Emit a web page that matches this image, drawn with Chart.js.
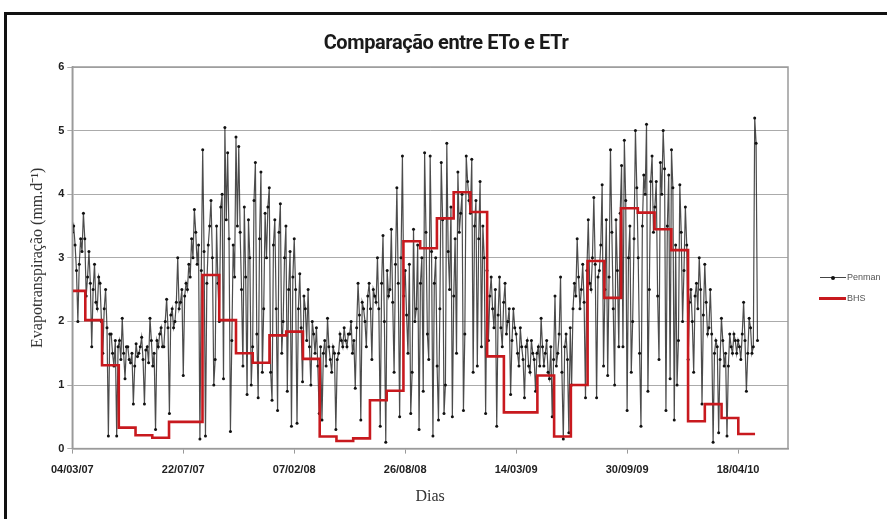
<!DOCTYPE html>
<html>
<head>
<meta charset="utf-8">
<script src="https://cdn.jsdelivr.net/npm/chart.js@4.4.1/dist/chart.umd.min.js"></script>
<style>
html,body{margin:0;padding:0;background:#fff;}
#wrap{position:relative;width:887px;height:519px;overflow:hidden;background:#fff;}
#frame{position:absolute;left:4px;top:12px;width:1000px;height:1000px;border-left:3px solid #111;border-top:3px solid #111;}
#c{position:absolute;left:0;top:0;}
#title{position:absolute;left:6px;width:880px;top:30px;text-align:center;font:bold 20px Roboto,"Liberation Sans",sans-serif;color:#1a1a1a;letter-spacing:-0.4px;line-height:24px;}
.lg{position:absolute;font:9px "Liberation Sans",Arial,sans-serif;color:#555;line-height:10px;}
.ln{position:absolute;}
</style>
</head>
<body>
<div id="wrap">
  <div id="frame"></div>
  <canvas id="c" width="887" height="519"></canvas>
  <div id="title">Comparação entre ETo e ETr</div>
  <div class="ln" style="left:820px;top:277px;width:26px;height:1px;background:#444;"></div>
  <div class="ln" style="left:831px;top:275.5px;width:4px;height:4px;border-radius:50%;background:#111;"></div>
  <div class="lg" style="left:847px;top:272px;">Penman</div>
  <div class="ln" style="left:819px;top:297px;width:27px;height:2.5px;background:#c8191e;"></div>
  <div class="lg" style="left:847px;top:293px;">BHS</div>
</div>
<script>
// ---- data ----
const tickLabels = ['04/03/07','22/07/07','07/02/08','26/08/08','14/03/09','30/09/09','18/04/10'];
const tickEvery = 200;      // x units between labelled ticks
const xMax = 1290;
const penmanStep = 2.5;     // x units between plotted Penman values
const penmanValues = [
  3.4,3.5, 3.2,2.8, 2.0,2.9, 3.3,3.1, 3.7,3.3, 2.4,2.7, 3.1,2.6, 1.6,2.5, 2.9,2.3, 2.2,2.7,
  2.6,2.0, 1.5,2.2, 2.5,1.9, 0.2,1.8, 1.8,1.5, 1.3,1.7, 0.2,1.6, 1.7,1.4, 2.05,1.5, 1.1,1.6,
  1.6,1.4, 1.35,1.5, 0.7,1.3, 1.65,1.45, 1.5,1.6, 1.75,1.4, 0.7,1.55, 1.6,1.35, 2.05,1.7, 1.3,1.5,
  0.3,1.7, 1.6,1.8, 1.9,1.6, 1.6,2.0, 2.35,1.9, 0.55,2.1, 2.2,1.9, 2.0,2.3, 3.0,2.2, 2.3,2.5,
  1.15,2.4, 2.6,2.5, 2.9,2.7, 3.3,3.0, 3.76,3.4, 2.9,3.2, 0.15,2.8, 4.7,3.1, 0.2,2.6, 3.2,3.5,
  3.9,3.0, 1.0,1.4, 3.5,2.6, 2.0,3.8, 4.0,1.1, 5.05,3.6, 4.65,3.3, 0.27,1.7, 3.2,2.7, 4.9,3.5,
  4.75,3.4, 2.5,1.3, 3.8,2.7, 0.85,3.6, 3.0,1.0, 1.6,3.9, 4.5,1.8, 0.8,3.3, 4.35,1.2, 2.2,3.7,
  3.0,3.8, 4.1,1.2, 0.76,3.2, 3.6,2.2, 0.6,3.4, 3.85,1.5, 2.0,3.0, 3.5,0.9, 2.5,3.1, 0.35,2.7,
  3.3,2.5, 0.4,2.2, 2.75,1.9, 1.05,2.4, 2.2,1.7, 2.5,1.6, 1.0,2.0, 1.8,1.5, 1.9,1.3, 0.55,1.6,
  0.45,1.5, 1.7,1.3, 2.05,1.6, 1.4,1.2, 1.6,1.5, 0.3,1.4, 1.5,1.8, 1.7,1.6, 1.9,1.7, 1.6,1.8,
  1.8,2.0, 1.5,1.7, 0.95,1.9, 2.6,2.1, 0.45,2.3, 2.2,2.0, 1.6,2.4, 2.6,2.2, 1.4,2.5, 2.4,2.3,
  3.0,2.2, 0.35,2.6, 3.35,2.0, 0.1,2.8, 2.4,2.5, 3.45,2.3, 1.2,2.9, 4.1,2.6, 0.5,3.0, 4.6,2.4,
  2.8,2.1, 1.5,2.9, 0.55,1.2, 3.45,2.0, 2.2,3.2, 0.3,2.6, 3.0,0.9, 4.65,3.4, 1.8,1.4, 4.6,3.1,
  0.2,2.6, 3.0,1.3, 0.45,2.2, 4.5,3.6, 0.55,1.0, 4.8,3.1, 2.5,3.8, 0.5,2.4, 3.3,1.5, 4.35,3.4,
  3.7,4.0, 0.6,1.8, 4.6,4.2, 3.9,3.7, 4.55,1.2, 3.5,3.9, 1.3,3.3, 4.2,1.6, 3.5,3.0, 0.55,2.8,
  1.7,2.4, 2.7,2.2, 1.9,2.5, 0.35,2.1, 2.7,1.9, 1.6,2.3, 2.6,1.8, 2.0,2.2, 0.85,1.7, 2.2,1.9,
  1.8,1.5, 1.3,1.9, 1.6,1.4, 0.8,1.6, 1.7,1.3, 1.2,1.7, 1.5,1.4, 0.9,1.5, 1.6,1.3, 2.05,1.6,
  1.3,1.5, 1.7,1.2, 1.1,1.6, 0.5,1.4, 2.4,1.3, 1.5,1.8, 2.7,1.2, 0.15,1.6, 1.8,1.4, 0.25,1.9,
  1.0,2.2, 2.6,2.4, 3.3,2.7, 2.2,2.5, 2.9,2.3, 0.8,2.8, 3.6,2.6, 2.5,3.0, 3.95,2.9, 0.8,2.7,
  2.8,3.2, 4.15,1.3, 2.5,3.6, 1.15,2.7, 4.7,3.4, 2.2,1.0, 3.6,2.8, 1.6,3.7, 4.45,1.6, 4.85,3.9,
  0.6,3.0, 3.5,1.2, 2.0,3.3, 5.0,4.1, 3.0,1.5, 0.35,3.5, 4.3,4.0, 5.1,0.9, 2.5,4.2, 4.6,3.4,
  3.8,4.2, 2.4,1.4, 4.5,4.0, 5.0,4.4, 0.6,3.5, 4.3,1.1, 4.7,4.1, 0.45,3.2, 1.0,1.7, 4.15,3.4,
  2.0,2.8, 3.8,3.2, 1.4,2.3, 2.5,2.0, 1.2,2.4, 2.6,2.2, 3.0,2.5, 0.7,2.1, 2.9,2.3, 1.8,1.9,
  2.5,1.8, 0.1,1.5, 1.7,1.6, 0.25,1.4, 2.05,1.7, 1.3,1.5, 0.2,1.3, 1.8,1.6, 1.5,1.8, 1.7,1.5,
  1.7,1.6, 1.4,1.8, 2.3,1.7, 0.9,1.5, 2.05,1.9, 1.5,1.6, 5.2,4.8, 1.7
];
const bhsValues = [
  2.48, 2.02, 1.31, 0.33, 0.21, 0.17, 0.42, 0.42, 2.73, 2.02,
  1.50, 1.35, 1.78, 1.84, 1.41, 0.19, 0.12, 0.16, 0.76, 0.91,
  3.26, 3.15, 3.62, 4.03, 3.72, 1.45, 0.57, 0.57, 1.15, 0.19,
  1.00, 2.95, 2.37, 3.78, 3.71, 3.45, 3.12, 0.43, 0.70, 0.48,
  0.23
];
const bhsFirstBreak = 23.4; // x units where the 2nd monthly value starts
const bhsMonth = 30.18;     // x units per month

// ---- build datasets ----
const penmanData = penmanValues.map((v, i) => ({ x: i * penmanStep, y: v }));
const bhsStart = i => (i === 0 ? 0 : bhsFirstBreak + (i - 1) * bhsMonth);
const bhsData = bhsValues.map((v, i) => ({ x: bhsStart(i), y: v }));
bhsData.push({ x: bhsStart(bhsValues.length), y: bhsValues[bhsValues.length - 1] });

const frame = {
  id: 'areaFrame',
  afterDraw(chart) {
    const { ctx, chartArea: a } = chart;
    ctx.save();
    ctx.strokeStyle = '#9a9a9a';
    ctx.lineWidth = 1.5;
    ctx.strokeRect(a.left, a.top, a.right - a.left, a.bottom - a.top);
    ctx.restore();
  }
};

const tickFont = { family: '"Liberation Sans", Arial, sans-serif', size: 11, weight: 'bold' };

new Chart(document.getElementById('c'), {
  type: 'line',
  data: {
    datasets: [
      {
        label: 'Penman',
        data: penmanData,
        borderColor: 'rgba(25,25,25,0.78)',
        borderWidth: 1.2,
        pointRadius: 1.5,
        pointBackgroundColor: '#111',
        pointBorderWidth: 0,
        tension: 0,
        order: 2
      },
      {
        label: 'BHS',
        data: bhsData,
        borderColor: '#c8191e',
        borderWidth: 2.6,
        pointRadius: 0,
        stepped: 'before',
        order: 1
      }
    ]
  },
  options: {
    responsive: false,
    animation: false,
    events: [],
    layout: { padding: { left: 28, right: 99, top: 67, bottom: 9 } },
    plugins: { legend: { display: false }, title: { display: false }, tooltip: { enabled: false } },
    scales: {
      x: {
        type: 'linear',
        min: 0,
        max: xMax,
        ticks: {
          stepSize: tickEvery,
          includeBounds: false,
          autoSkip: false,
          maxRotation: 0,
          padding: 10,
          font: tickFont,
          color: '#222',
          callback: v => tickLabels[Math.round(v / tickEvery)] ?? ''
        },
        grid: { drawOnChartArea: false, drawTicks: true, tickLength: 5, color: '#999' },
        border: { display: true, color: '#9a9a9a', width: 1.5 },
        title: {
          display: true, text: 'Dias', color: '#333',
          font: { family: '"Liberation Serif", "Times New Roman", serif', size: 16 },
          padding: { top: 0, bottom: 4 }
        }
      },
      y: {
        min: 0,
        max: 6,
        ticks: { stepSize: 1, padding: 3, font: tickFont, color: '#222' },
        grid: { color: '#ababab', lineWidth: 1, tickLength: 5 },
        border: { display: true, color: '#9a9a9a', width: 1.5 },
        title: {
          display: true, text: 'Evapotranspiração (mm.d⁻¹)', color: '#333',
          font: { family: '"Liberation Serif", "Times New Roman", serif', size: 16 },
          padding: { top: 0, bottom: 8 }
        }
      }
    }
  },
  plugins: [frame]
});
</script>
</body>
</html>
